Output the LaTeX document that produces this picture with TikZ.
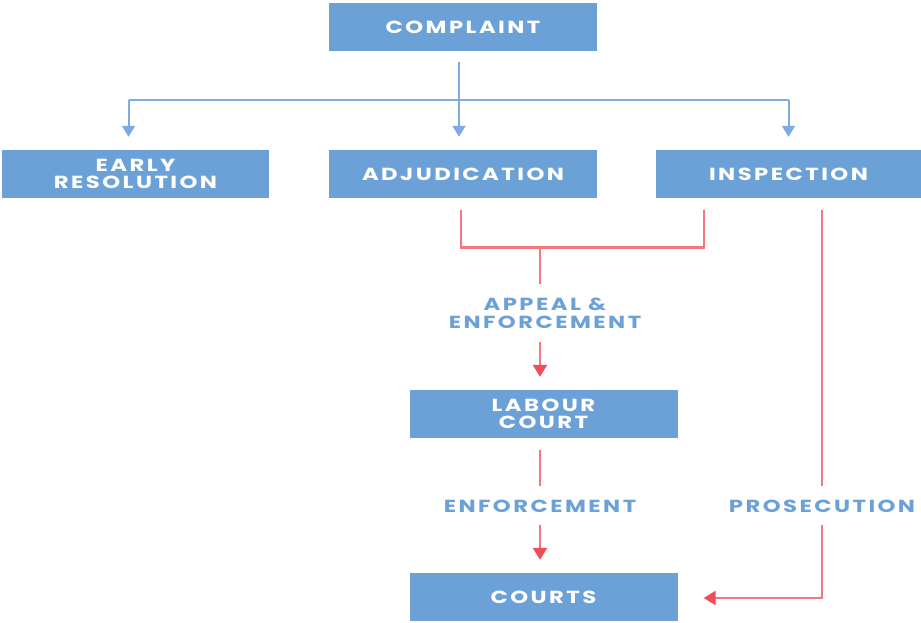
\documentclass[tikz,border=0pt]{standalone}
\usepackage{fontspec}
\setmainfont{Poppins}
\newfontfamily\trackfont{Poppins}[LetterSpace=14, FakeStretch=1.3]
\usetikzlibrary{arrows.meta}
\definecolor{boxblue}{HTML}{6CA1D7}
\definecolor{lineblue}{HTML}{7DAAE0}
\definecolor{linered}{HTML}{F5777D}
\definecolor{arrred}{HTML}{F04D57}
\tikzset{
  box/.style={fill=boxblue, draw=none, minimum width=268pt, minimum height=48pt, inner sep=0pt,
    text=white, align=center, font=\trackfont\bfseries\fontsize{17.5}{17}\selectfont},
  lbl/.style={inner sep=0pt, text=boxblue, align=center, font=\trackfont\bfseries\fontsize{17.5}{18}\selectfont},
  bline/.style={draw=lineblue, line width=2pt},
  barrow/.style={bline, -{Triangle[width=13pt,length=11pt,color=lineblue]}},
  rline/.style={draw=linered, line width=2.6pt},
  rarrow/.style={rline, -{Triangle[width=14pt,length=12pt,color=arrred]}}
}
\begin{document}
\begin{tikzpicture}[x=1pt,y=-1pt]
\useasboundingbox (0,0) rectangle (921,623);
% boxes
\node[box] (complaint) at (463,27) {COMPLAINT};
\node[box, minimum width=267pt] (early) at (135.5,174) {EARLY\\RESOLUTION};
\node[box] (adj) at (463,174) {ADJUDICATION};
\node[box, minimum width=265pt] (insp) at (788.5,174) {INSPECTION};
\node[box] (labour) at (543.5,414) {LABOUR\\COURT};
\node[box] (courts) at (543.5,597) {COURTS};
% labels
\node[lbl] (appeal) at (545,313) {APPEAL \&\\ENFORCEMENT};
\node[lbl] (enf) at (540,506) {ENFORCEMENT};
\node[lbl] (pros) at (822,506) {PROSECUTION};
% blue connectors
\coordinate (bl) at ([xshift=-7pt,yshift=50pt]early.north);
\coordinate (br) at ([yshift=50pt]insp.north);
\draw[bline] (bl) -- (br);
\draw[barrow] ([xshift=-4pt,yshift=-11pt]complaint.south) -- ([xshift=-4pt,yshift=13pt]adj.north);
\draw[barrow] (bl) -- ([xshift=-7pt,yshift=13pt]early.north);
\draw[barrow] (br) -- ([yshift=13pt]insp.north);
% red connectors
\coordinate (rj) at (540,247);
\draw[rline] ([xshift=-2pt,yshift=-12pt]adj.south) |- ([xshift=48pt,yshift=-49pt]insp.south west)
  -- ([xshift=48pt,yshift=-12pt]insp.south west);
\draw[rline] (rj) -- ([xshift=-5pt,yshift=29pt]appeal.center);
\draw[rarrow] ([xshift=-5pt,yshift=-29pt]appeal.center) -- ([xshift=-3.5pt,yshift=13pt]labour.north);
\draw[rline] ([xshift=-3.5pt,yshift=-12pt]labour.south) -- ([yshift=20pt]enf.center);
\draw[rarrow] ([yshift=-19pt]enf.center) -- ([xshift=-3.5pt,yshift=13pt]courts.north);
\draw[rline] ([yshift=-12pt]insp.south -| pros.center) -- ([yshift=20pt]pros.center);
\draw[rarrow] ([yshift=-19pt]pros.center) |- ([xshift=26pt,yshift=-1pt]courts.east);
\end{tikzpicture}
\end{document}
